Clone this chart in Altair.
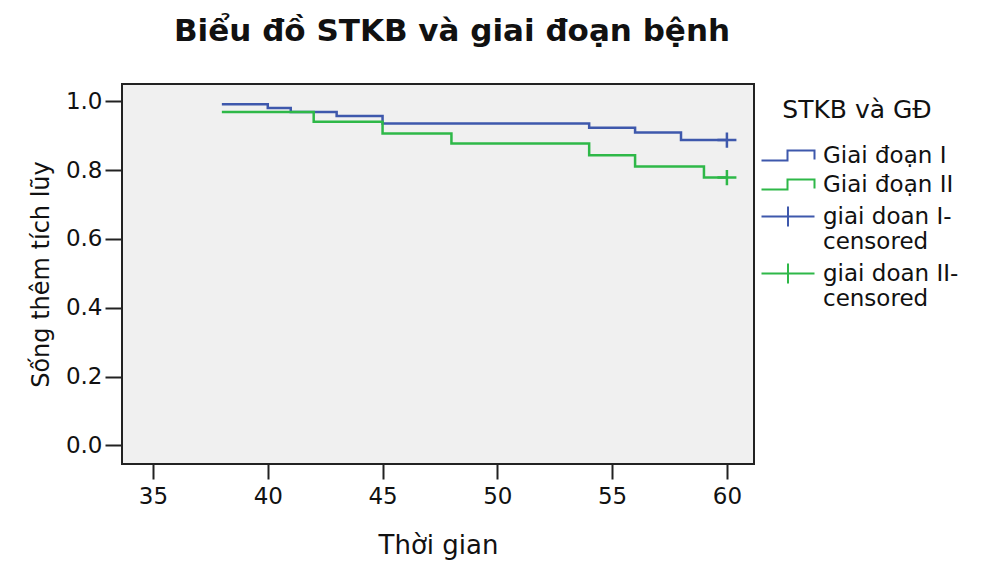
import altair as alt
import pandas as pd

# Kaplan-Meier survival steps per disease stage
series_names = ["Giai đoạn I", "Giai đoạn II"]
censor_names = ["giai doan I-censored", "giai doan II-censored"]

times_stage1 = [38, 40, 41, 43, 45, 54, 56, 58, 60]
surv_stage1 = [0.991, 0.980, 0.969, 0.957, 0.935, 0.923, 0.909, 0.887, 0.887]

times_stage2 = [38, 42, 45, 48, 54, 56, 59, 60]
surv_stage2 = [0.969, 0.940, 0.906, 0.877, 0.843, 0.810, 0.778, 0.778]

# censored observations at the end of follow-up
censor_times = [60, 60]
censor_surv = [0.887, 0.778]

x_ticks = [35, 40, 45, 50, 55, 60]
y_ticks = [0.0, 0.2, 0.4, 0.6, 0.8, 1.0]

BLUE = "#3E58AC"
GREEN = "#2EB848"
FONT = "DejaVu Sans"

steps = pd.DataFrame(
    {
        "time": times_stage1 + times_stage2,
        "surv": surv_stage1 + surv_stage2,
        "label": [series_names[0]] * len(times_stage1) + [series_names[1]] * len(times_stage2),
    }
)
censored = pd.DataFrame({"time": censor_times, "surv": censor_surv, "label": censor_names})
key_rows = pd.DataFrame(
    {
        "time": censor_times + censor_times,
        "surv": censor_surv + censor_surv,
        "label": series_names + censor_names,
    }
)

all_labels = series_names + censor_names
color_scale = alt.Scale(domain=all_labels, range=[BLUE, GREEN, BLUE, GREEN])

# legend glyphs (drawn wide, with a small nominal symbol size so rows stay compact):
# a small step for the curves, a tick on a line for censoring
step_glyph = "M-1.2,1L4,1L4,-1L9.4,-1L9.4,0.8"
censor_glyph = "M-1.2,0L9.4,0M4.1,-2L4.1,2"
shape_scale = alt.Scale(domain=all_labels, range=[step_glyph, step_glyph, censor_glyph, censor_glyph])
plus_mark = "M-1,0L1,0M0,-0.8L0,0.8"

x_enc = alt.X(
    "time:Q",
    scale=alt.Scale(domain=[33.65, 61.18], nice=False, zero=False),
    axis=alt.Axis(
        title="Thời gian",
        values=x_ticks,
        format="d",
        grid=False,
        domain=False,
        tickSize=15,
        tickWidth=2,
        tickColor="#222222",
        labelFontSize=23,
        labelPadding=6,
        labelFont=FONT,
        labelColor="#111111",
        titleFont=FONT,
        titleFontSize=26,
        titleFontWeight="normal",
        titleColor="#111111",
        titlePadding=24,
    ),
)
y_enc = alt.Y(
    "surv:Q",
    scale=alt.Scale(domain=[-0.054, 1.05], nice=False, zero=False),
    axis=alt.Axis(
        title="Sống thêm tích lũy",
        values=y_ticks,
        format=".1f",
        grid=False,
        domain=False,
        tickSize=17,
        tickWidth=2,
        tickColor="#222222",
        labelFontSize=23,
        labelPadding=3,
        labelFont=FONT,
        labelColor="#111111",
        titleFont=FONT,
        titleFontSize=24,
        titleFontWeight="normal",
        titleColor="#111111",
        titlePadding=12,
    ),
)

legend_spec = alt.Legend(
    title="STKB và GĐ",
    orient="none",
    legendX=634,
    legendY=14,
    titleFont=FONT,
    titleFontSize=25,
    titleFontWeight="normal",
    titleColor="#111111",
    titleAnchor="middle",
    titlePadding=21,
    labelFont=FONT,
    labelFontSize=23,
    labelColor="#111111",
    labelOffset=44,
    labelLimit=300,
    symbolSize=100,
    symbolStrokeWidth=2,
    symbolOpacity=1,
    symbolFillColor="transparent",
    rowPadding=5,
    labelExpr=(
        "datum.label == 'giai doan I-censored' ? ['giai doan I-', 'censored'] : "
        "datum.label == 'giai doan II-censored' ? ['giai doan II-', 'censored'] : datum.label"
    ),
)

# invisible layer that carries the legend (colour + glyph per entry)
key = (
    alt.Chart(key_rows)
    .mark_point(filled=False, opacity=0)
    .encode(
        x=x_enc,
        y=y_enc,
        color=alt.Color("label:N", scale=color_scale, legend=legend_spec),
        shape=alt.Shape("label:N", scale=shape_scale, legend=legend_spec),
    )
)

curves = (
    alt.Chart(steps)
    .mark_line(interpolate="step-after", strokeWidth=2.5)
    .encode(x="time:Q", y="surv:Q", color=alt.Color("label:N", legend=None), detail="label:N")
)

plus_marks = (
    alt.Chart(censored)
    .mark_point(shape=plus_mark, filled=False, size=361, strokeWidth=2.5, opacity=1)
    .encode(x="time:Q", y="surv:Q", color=alt.Color("label:N", legend=None))
)

chart = (
    alt.layer(key, curves, plus_marks)
    .resolve_legend(color="independent", shape="independent")
    .properties(
        width=632,
        height=380,
        autosize=alt.AutoSizeParams(type="none"),
        padding={"left": 122, "top": 84, "right": 231, "bottom": 97},
        title=alt.TitleParams(
            "Biểu đồ STKB và giai đoạn bệnh",
            font=FONT,
            fontSize=31,
            fontWeight="bold",
            color="#111111",
            anchor="middle",
            dx=14,
            offset=36,
        ),
        background="white",
    )
    .configure_view(fill="#F0F0F0", stroke="#222222", strokeWidth=2)
)

chart.save("out.html", embed_options={"renderer": "svg", "actions": False})
